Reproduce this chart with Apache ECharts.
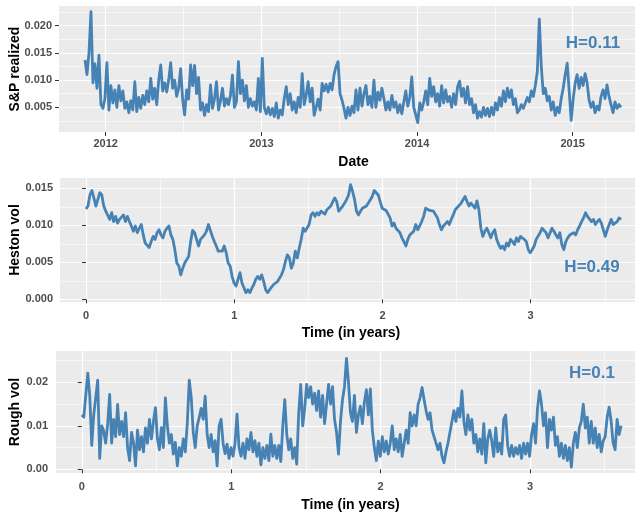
<!DOCTYPE html>
<html><head><meta charset="utf-8">
<script src="https://cdn.jsdelivr.net/npm/echarts@6/dist/echarts.min.js"></script>
<style>html,body{margin:0;padding:0;background:#fff}#c{width:641px;height:513px}</style>
</head><body><div id="c"></div>
<script>
// ---- Data ----
const spStart = 2011.867, spEnd = 2015.31;
const spVals = [
0.0137,0.0110,0.0150,0.0226,0.0095,0.0130,0.0085,0.0146,0.0055,0.0048,
0.0066,0.0132,0.0045,0.0090,0.0058,0.0082,0.0050,0.0090,0.0062,0.0080,
0.0048,0.0060,0.0040,0.0062,0.0045,0.0097,0.0042,0.0068,0.0048,0.0072,
0.0055,0.0080,0.0060,0.0103,0.0065,0.0085,0.0055,0.0100,0.0128,0.0080,
0.0095,0.0078,0.0100,0.0132,0.0085,0.0100,0.0070,0.0085,0.0121,0.0065,
0.0036,0.0082,0.0065,0.0128,0.0090,0.0127,0.0075,0.0105,0.0045,0.0058,
0.0035,0.0055,0.0042,0.0091,0.0048,0.0066,0.0097,0.0045,0.0062,0.0085,
0.0052,0.0066,0.0055,0.0072,0.0109,0.0050,0.0060,0.0134,0.0075,0.0100,
0.0062,0.0090,0.0050,0.0066,0.0052,0.0060,0.0045,0.0103,0.0042,0.0140,
0.0050,0.0038,0.0050,0.0036,0.0048,0.0033,0.0058,0.0030,0.0045,0.0036,
0.0066,0.0088,0.0055,0.0075,0.0045,0.0060,0.0040,0.0068,0.0050,0.0112,
0.0055,0.0072,0.0097,0.0060,0.0085,0.0035,0.0050,0.0065,0.0045,0.0094,
0.0080,0.0092,0.0078,0.0094,0.0082,0.0110,0.0125,0.0134,0.0075,0.0063,
0.0048,0.0030,0.0050,0.0035,0.0052,0.0040,
0.0082,0.0045,0.0085,0.0052,0.0075,0.0090,0.0055,0.0070,0.0050,0.0100,
0.0050,0.0078,0.0063,0.0085,0.0066,0.0045,0.0060,0.0045,0.0072,0.0050,
0.0060,0.0040,0.0055,0.0038,0.0060,0.0080,0.0052,0.0068,0.0106,0.0050,
0.0036,0.0022,0.0058,0.0045,0.0060,0.0080,0.0055,0.0103,0.0070,0.0088,
0.0060,0.0075,0.0052,0.0090,0.0058,0.0082,0.0060,0.0070,0.0050,0.0075,
0.0055,0.0088,0.0098,0.0070,0.0085,0.0058,0.0088,0.0055,0.0066,0.0040,
0.0055,0.0030,0.0042,0.0032,0.0050,0.0035,0.0048,0.0033,0.0050,0.0036,
0.0058,0.0045,0.0068,0.0052,0.0080,0.0060,0.0085,0.0068,0.0082,0.0055,
0.0066,0.0040,0.0045,0.0055,0.0048,0.0058,0.0068,0.0060,0.0080,0.0070,
0.0090,0.0115,0.0212,0.0125,0.0075,0.0085,0.0062,0.0070,0.0045,0.0060,
0.0035,0.0050,0.0040,0.0066,0.0085,0.0110,0.0131,0.0080,0.0026,0.0065,
0.0095,0.0110,0.0085,0.0105,0.0090,0.0112,0.0095,0.0063,0.0050,0.0060,
0.0040,0.0052,0.0045,0.0070,0.0082,0.0066,0.0091,0.0070,0.0055,0.0040,
0.0060,0.0048,0.0055,0.0050
];

const hestonStart = 0, hestonEnd = 3.61;
const hestonVals = [
0.0122,0.0126,0.0141,0.0147,0.0137,0.0126,0.0135,0.0144,0.0141,0.0126,
0.0119,0.0117,0.0108,0.0117,0.0105,0.0112,0.0103,0.0108,0.0110,0.0114,
0.0105,0.0112,0.0105,0.0099,0.0092,0.0099,0.0090,0.0096,0.0101,0.0087,
0.0076,0.0074,0.0070,0.0078,0.0085,0.0081,0.0090,0.0094,0.0087,0.0083,
0.0092,0.0096,0.0099,0.0087,0.0081,0.0067,0.0049,0.0045,0.0033,0.0042,
0.0049,0.0050,0.0058,0.0078,0.0093,0.0090,0.0081,0.0072,0.0081,0.0081,
0.0087,0.0092,0.0101,0.0099,0.0085,0.0078,0.0072,0.0065,0.0067,0.0065,
0.0072,0.0063,0.0049,0.0045,0.0031,0.0022,0.0018,0.0027,0.0036,0.0022,
0.0020,0.0009,0.0013,0.0009,0.0015,0.0020,0.0027,0.0031,0.0027,0.0033,
0.0024,0.0013,0.0009,0.0013,0.0015,0.0020,0.0018,0.0024,0.0022,0.0033,
0.0040,0.0051,0.0060,0.0056,0.0042,0.0049,0.0065,0.0056,0.0069,0.0081,
0.0096,0.0092,0.0094,0.0101,0.0114,0.0117,0.0112,0.0117,0.0114,0.0119,
0.0120,0.0115,0.0121,0.0120,0.0126,0.0132,0.0137,0.0132,0.0119,0.0117,
0.0126,0.0130,0.0135,0.0141,0.0155,0.0146,0.0135,0.0119,
0.0114,0.0119,0.0123,0.0123,0.0126,0.0130,0.0132,0.0139,0.0147,0.0144,
0.0141,0.0132,0.0123,0.0121,0.0120,0.0115,0.0110,0.0099,0.0103,0.0096,
0.0094,0.0090,0.0083,0.0078,0.0072,0.0081,0.0087,0.0085,0.0092,0.0101,
0.0094,0.0099,0.0105,0.0112,0.0123,0.0121,0.0120,0.0118,0.0119,0.0117,
0.0110,0.0101,0.0094,0.0099,0.0102,0.0105,0.0101,0.0108,0.0114,0.0121,
0.0123,0.0127,0.0130,0.0132,0.0139,0.0132,0.0126,0.0130,0.0128,0.0123,
0.0133,0.0121,0.0096,0.0085,0.0092,0.0096,0.0090,0.0083,0.0090,0.0094,
0.0081,0.0074,0.0069,0.0072,0.0067,0.0076,0.0072,0.0081,0.0078,0.0074,
0.0083,0.0078,0.0085,0.0087,0.0081,0.0078,0.0067,0.0063,0.0067,0.0072,
0.0081,0.0083,0.0090,0.0096,0.0094,0.0090,0.0083,0.0081,0.0096,0.0092,
0.0087,0.0083,0.0090,0.0074,0.0067,0.0078,0.0083,0.0087,0.0085,0.0090,
0.0087,0.0094,0.0099,0.0105,0.0110,0.0117,0.0112,0.0110,0.0105,0.0108,
0.0101,0.0105,0.0108,0.0103,0.0101,0.0085,0.0094,0.0101,0.0108,0.0101,
0.0103,0.0105,0.0110,0.0108
];

const roughStart = 0, roughEnd = 3.61;
const roughVals = [
0.0125,0.0120,0.0170,0.0221,0.0170,0.0055,0.0125,0.0165,0.0205,0.0025,
0.0100,0.0088,0.0060,0.0105,0.0172,0.0060,0.0115,0.0075,0.0149,0.0080,
0.0110,0.0075,0.0130,0.0050,0.0020,0.0085,0.0060,0.0008,0.0090,0.0045,
0.0075,0.0040,0.0095,0.0060,0.0115,0.0070,0.0110,0.0142,0.0070,0.0045,
0.0096,0.0050,0.0164,0.0100,0.0060,0.0080,0.0035,0.0062,0.0008,0.0050,
0.0030,0.0070,0.0040,0.0105,0.0205,0.0165,0.0085,0.0050,0.0100,0.0119,
0.0140,0.0115,0.0168,0.0080,0.0050,0.0080,0.0040,0.0066,0.0008,0.0100,
0.0115,0.0060,0.0036,0.0058,0.0025,0.0050,0.0030,0.0060,0.0127,0.0050,
0.0030,0.0060,0.0025,0.0070,0.0045,0.0085,0.0040,0.0066,0.0030,0.0060,
0.0010,0.0050,0.0025,0.0055,0.0020,0.0081,0.0030,0.0055,0.0025,0.0055,
0.0018,0.0100,0.0160,0.0080,0.0045,0.0070,0.0025,0.0050,0.0012,0.0130,
0.0195,0.0100,0.0140,0.0195,0.0165,0.0190,0.0150,0.0175,0.0135,0.0180,
0.0120,0.0170,0.0105,0.0150,0.0195,0.0150,0.0190,0.0115,0.0085,0.0035,
0.0110,0.0160,0.0190,0.0255,0.0200,0.0130,
0.0110,0.0170,0.0085,0.0125,0.0145,0.0105,0.0155,0.0183,0.0125,0.0185,
0.0090,0.0050,0.0020,0.0065,0.0030,0.0075,0.0040,0.0065,0.0035,0.0060,
0.0100,0.0045,0.0070,0.0040,0.0080,0.0030,0.0060,0.0090,0.0060,0.0130,
0.0100,0.0125,0.0100,0.0150,0.0165,0.0188,0.0160,0.0135,0.0115,0.0130,
0.0090,0.0075,0.0060,0.0045,0.0060,0.0030,0.0015,0.0040,0.0060,0.0085,
0.0110,0.0135,0.0110,0.0140,0.0120,0.0180,0.0110,0.0080,0.0125,0.0090,
0.0115,0.0060,0.0080,0.0040,0.0070,0.0035,0.0105,0.0015,0.0070,0.0090,
0.0065,0.0030,0.0095,0.0040,0.0060,0.0035,0.0115,0.0125,0.0055,0.0030,
0.0055,0.0030,0.0050,0.0035,0.0055,0.0025,0.0060,0.0035,0.0060,0.0030,
0.0080,0.0105,0.0060,0.0140,0.0180,0.0150,0.0100,0.0130,0.0050,0.0115,
0.0090,0.0120,0.0055,0.0075,0.0030,0.0060,0.0025,0.0055,0.0020,0.0050,
0.0005,0.0060,0.0085,0.0050,0.0095,0.0110,0.0150,0.0095,0.0120,0.0060,
0.0110,0.0060,0.0095,0.0050,0.0080,0.0040,0.0065,0.0075,0.0120,0.0143,
0.0110,0.0060,0.0045,0.0115,0.0080,0.0100
];

// ticks / labels
const spXTicks = [2012, 2013, 2014, 2015];
const spXMinor = [2011.5, 2012.5, 2013.5, 2014.5, 2015.5];
const spYTicks = [0.005, 0.010, 0.015, 0.020];
const spYMinor = [0.0025, 0.0075, 0.0125, 0.0175, 0.0225];
const timeTicks = [0, 1, 2, 3];
const timeMinor = [0.5, 1.5, 2.5, 3.5];
const hestonYTicks = [0.000, 0.005, 0.010, 0.015];
const hestonYMinor = [0.0025, 0.0075, 0.0125];
const roughYTicks = [0.00, 0.01, 0.02];
const roughYMinor = [0.005, 0.015, 0.025];
const panelNames = ['S&P realized', 'Heston vol', 'Rough vol'];
const xNames = ['Date', 'Time (in years)', 'Time (in years)'];
const hLabels = ['H=0.11', 'H=0.49', 'H=0.1'];

// ---- build ----
function pairs(start, end, vals) {
  const n = vals.length, out = [];
  for (let i = 0; i < n; i++) out.push([start + (end - start) * i / (n - 1), vals[i]]);
  return out;
}
const FONT = '"Liberation Sans", Arial, sans-serif';
const LINE = '#4682B4';
const labelStyle = { color: '#4D4D4D', fontSize: 11, fontWeight: 'bold', fontFamily: FONT };
const nameStyle = { color: '#000', fontSize: 14, fontWeight: 'bold', fontFamily: FONT };

const grids = [
  { left: 59, top: 6, width: 576, height: 126 },
  { left: 60, top: 178, width: 575, height: 124 },
  { left: 56, top: 351, width: 579, height: 122 }
];
const xr = [[2011.700, 2015.400], [-0.1754, 3.704], [-0.1727, 3.703]];
const yr = [[0.00046, 0.02362], [-0.000365, 0.01639], [-0.00085, 0.0272]];
const xT = [spXTicks, timeTicks, timeTicks];
const xM = [spXMinor, timeMinor, timeMinor];
const yT = [spYTicks, hestonYTicks, roughYTicks];
const yM = [spYMinor, hestonYMinor, roughYMinor];
const yFmt = [v => v.toFixed(3), v => v.toFixed(3), v => v.toFixed(2)];
const xFmt = [v => String(Math.round(v)), v => String(Math.round(v)), v => String(Math.round(v))];
const yGap = [37, 38, 34];
const yLabMargin = [7, 7, 8];
const xLabMargin = [6, 8, 8];
const xGap = [23, 24, 25];
const xPad = [13, 7, 10];
const hPos = [[593, 43], [592, 267], [592, 373]];
const lineW = [2.8, 2.8, 2.8];

const xAxis = [], yAxis = [];
for (let i = 0; i < 3; i++) {
  xAxis.push({
    type: 'value', gridIndex: i, min: xr[i][0], max: xr[i][1], position: 'bottom',
    axisLine: { show: false },
    axisTick: { show: true, length: 4, lineStyle: { color: '#333', width: 1 }, customValues: xT[i] },
    axisLabel: { ...labelStyle, margin: xLabMargin[i], customValues: xT[i], formatter: xFmt[i] },
    splitLine: { show: true, lineStyle: { color: '#fff', width: 1.2 } },
    name: xNames[i], nameLocation: 'middle', nameGap: xGap[i], nameMoveOverlap: false,
    nameTextStyle: { ...nameStyle, padding: [0, 0, 0, xPad[i]] }
  });
  yAxis.push({
    type: 'value', gridIndex: i, min: yr[i][0], max: yr[i][1], position: 'left',
    axisLine: { show: false },
    axisTick: { show: true, length: 4, lineStyle: { color: '#333', width: 1 }, customValues: yT[i] },
    axisLabel: { ...labelStyle, margin: yLabMargin[i], customValues: yT[i], formatter: yFmt[i] },
    splitLine: { show: true, lineStyle: { color: '#fff', width: 1.2 } },
    name: panelNames[i], nameLocation: 'middle', nameGap: yGap[i], nameRotate: 90, nameMoveOverlap: false,
    nameTextStyle: nameStyle
  });
}
for (let i = 0; i < 3; i++) {
  xAxis.push({
    type: 'value', gridIndex: i, min: xr[i][0], max: xr[i][1], position: 'top',
    axisLine: { show: false }, axisLabel: { show: false },
    axisTick: { show: false, customValues: xM[i] },
    splitLine: { show: true, lineStyle: { color: '#fff', width: 0.6 } }
  });
  yAxis.push({
    type: 'value', gridIndex: i, min: yr[i][0], max: yr[i][1], position: 'right',
    axisLine: { show: false }, axisLabel: { show: false },
    axisTick: { show: false, customValues: yM[i] },
    splitLine: { show: true, lineStyle: { color: '#fff', width: 0.6 } }
  });
}

const seriesData = [pairs(spStart, spEnd, spVals), pairs(hestonStart, hestonEnd, hestonVals), pairs(roughStart, roughEnd, roughVals)];
const series = seriesData.map((d, i) => ({
  type: 'line', xAxisIndex: i, yAxisIndex: i, data: d, showSymbol: false, symbol: 'none',
  lineStyle: { color: LINE, width: lineW[i], join: 'round' }, itemStyle: { color: LINE },
  sampling: null, animation: false, emphasis: { disabled: true }, silent: true, z: 5
}));

const chart = echarts.init(document.getElementById('c'), null, { renderer: 'canvas' });
chart.setOption({
  animation: false,
  backgroundColor: '#ffffff',
  grid: grids.map(g => ({ ...g, show: true, backgroundColor: '#EBEBEB', borderWidth: 0, containLabel: false, outerBoundsMode: 'none' })),
  xAxis, yAxis, series,
  graphic: hLabels.map((t, i) => ({
    type: 'text', x: hPos[i][0], y: hPos[i][1], z: 100,
    style: { text: t, fill: LINE, font: 'bold 17px ' + FONT, align: 'center', verticalAlign: 'middle' }
  }))
});
</script></body></html>
